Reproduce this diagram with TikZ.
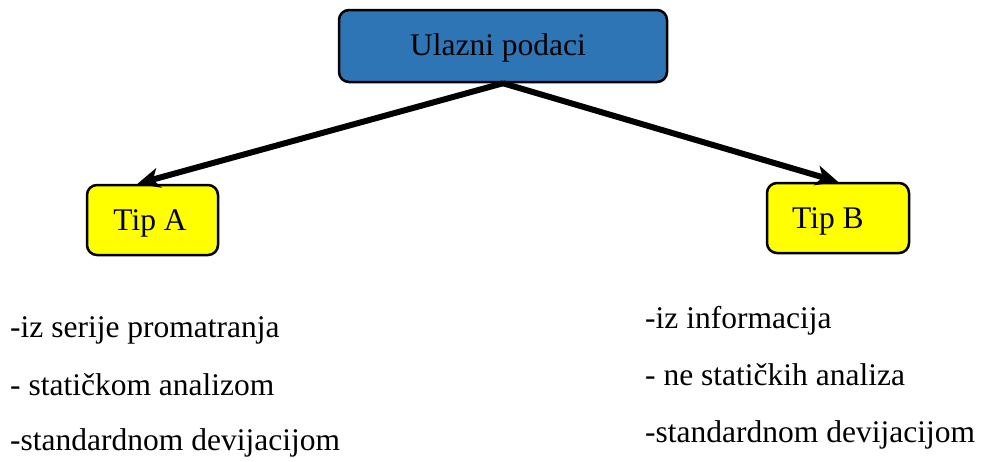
\documentclass[tikz,border=0pt]{standalone}
\usepackage{fontspec}
\setmainfont{Liberation Serif}
\usetikzlibrary{arrows.meta,calc}
\definecolor{boxblue}{HTML}{2E75B6}
\definecolor{boxyellow}{HTML}{FFFF00}
\begin{document}
\begin{tikzpicture}[x=1pt,y=-1pt,
  every node/.style={font=\fontsize{31.5}{38}\selectfont},
  bluebox/.style={draw=black,line width=2.5pt,fill=boxblue,rounded corners=10pt,minimum width=328pt,minimum height=72pt,inner sep=0pt},
  yelbox/.style={draw=black,line width=2.5pt,fill=boxyellow,rounded corners=10pt,minimum height=70pt,inner sep=0pt},
  lbl/.style={inner sep=0pt},
  listtxt/.style={inner sep=0pt,anchor=base west},
  conn/.style={line width=6pt,-{Stealth[length=22pt,width=20pt,inset=6pt]}}]
\useasboundingbox (0,0) rectangle (988,461);
\node[bluebox] (top) at (503,46) {};
\node[lbl,anchor=base] (toptxt) at (498,55) {Ulazni podaci};
\node[yelbox,minimum width=131pt] (tipA) at (152.5,220) {};
\node[lbl,anchor=base] (tipAtxt) at (150,230) {Tip A};
\node[yelbox,minimum width=142pt] (tipB) at (838,218) {};
\node[lbl,anchor=base] (tipBtxt) at (828,228) {Tip B};
\draw[conn] (top.south) -- ($(tipA.north)+(-15,0)$);
\draw[conn] (top.south) -- (tipB.north);
\node[listtxt] (l1) at (10,337) {-iz serije promatranja};
\node[listtxt] (l2) at (10,395) {- statičkom analizom};
\node[listtxt] (l3) at (10,450) {-standardnom devijacijom};
\node[listtxt] (r1) at (645,328) {-iz informacija};
\node[listtxt] (r2) at (645,385) {- ne statičkih analiza};
\node[listtxt] (r3) at (645,442) {-standardnom devijacijom};
\end{tikzpicture}
\end{document}
